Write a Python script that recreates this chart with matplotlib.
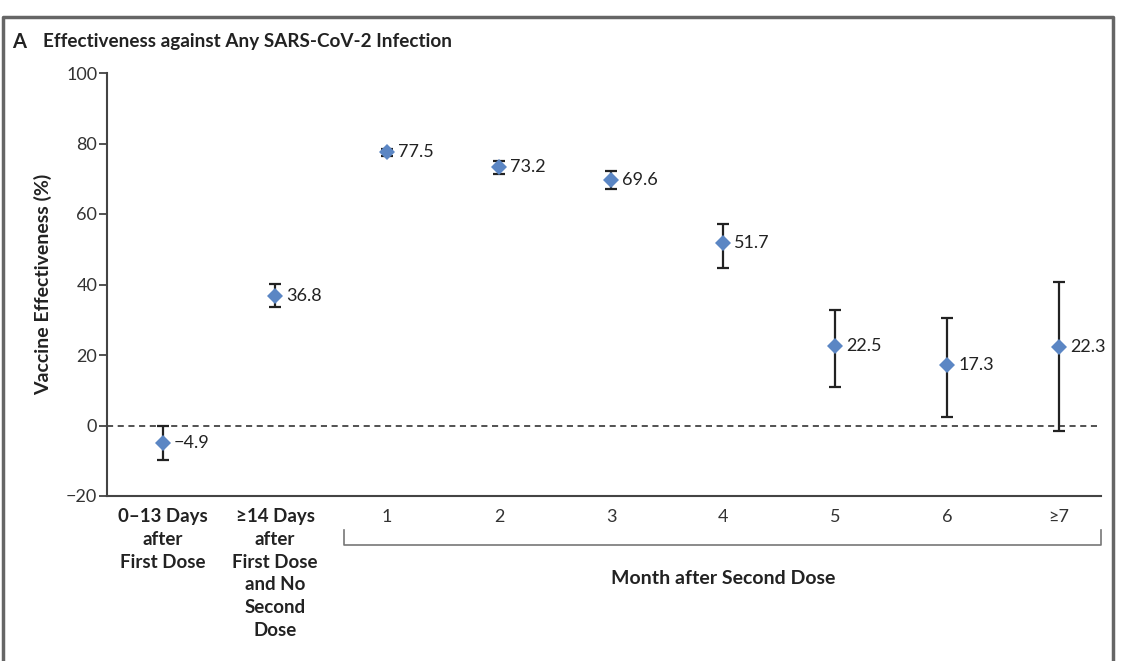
import numpy as np
import matplotlib; matplotlib.use("Agg"); import matplotlib.pyplot as plt
from matplotlib.lines import Line2D

plt.rcParams["font.family"] = ["Lato", "DejaVu Sans"]

cats = ["0\u201313 Days\nafter\nFirst Dose",
        "\u226514 Days\nafter\nFirst Dose\nand No\nSecond\nDose",
        "1", "2", "3", "4", "5", "6", "\u22657"]
ve = [-4.9, 36.8, 77.5, 73.2, 69.6, 51.7, 22.5, 17.3, 22.3]
lo = [-9.9, 33.5, 76.5, 71.4, 67.2, 44.8, 10.8, 2.3, -1.7]
hi = [-0.1, 40.1, 78.5, 75.0, 72.3, 57.3, 32.7, 30.4, 40.8]
val_lbl = ["\u22124.9", "36.8", "77.5", "73.2", "69.6", "51.7", "22.5", "17.3", "22.3"]
yticks = [-20, 0, 20, 40, 60, 80, 100]

W, H = 1125, 661
fig = plt.figure(figsize=(W / 100, H / 100), dpi=100)
ax = fig.add_axes([107 / W, 1 - 496 / H, (1101 - 107) / W, (496 - 73) / H])

x = np.arange(len(ve))
v = np.array(ve); l = np.array(lo); h = np.array(hi)
ax.errorbar(x, v, yerr=[v - l, h - v], fmt="none", ecolor="#222222",
            elinewidth=1.6, capsize=4, capthick=1.6, zorder=2)
ax.plot(x, v, "D", color="#5b86c4", markersize=8.5, markeredgewidth=0, zorder=3)
for xi, yi, t in zip(x, ve, val_lbl):
    ax.annotate(t, (xi, yi), xytext=(8, 0), textcoords="offset points",
                va="center", ha="left", fontsize=13, color="#222222")

ax.axhline(0, color="#222222", lw=1.1, ls=(0, (4, 3)), zorder=1)
ax.set_xlim(-0.5, 8.375)
ax.set_ylim(-20, 100)
ax.set_yticks(yticks)
ax.set_yticklabels([("\u2212" + str(-t)) if t < 0 else str(t) for t in yticks])
ax.set_xticks(x)
ax.set_xticklabels([])
ax.tick_params(axis="y", direction="out", length=6, width=1.2, labelsize=13,
               colors="#333333", pad=1)
ax.tick_params(axis="x", length=0)
for s in ["top", "right"]:
    ax.spines[s].set_visible(False)
for s in ["left", "bottom"]:
    ax.spines[s].set_linewidth(1.5)
    ax.spines[s].set_color("#444444")

ax.set_ylabel("Vaccine Effectiveness (%)", fontsize=14, fontweight="bold",
              color="#222222", labelpad=10)

# category labels
trans = ax.get_xaxis_transform()
for i, c in enumerate(cats):
    if i < 2:
        ax.text(i, -0.028, c, transform=trans, ha="center", va="top", fontsize=13.5,
                fontweight="bold", color="#222222", linespacing=1.42)
    else:
        ax.text(i, -0.03, c, transform=trans, ha="center", va="top", fontsize=13,
                color="#333333")

# bracket under months
bx0, bx1 = 1.62, 8.375
by, bt = -0.115, -0.08
ax.plot([bx0, bx0, bx1, bx1], [bt, by, by, bt], transform=trans, color="#777777",
        lw=1.2, clip_on=False)
ax.text((2 + 8) / 2, -0.175, "Month after Second Dose", transform=trans,
        ha="center", va="top", fontsize=14, fontweight="bold", color="#222222")

# title
fig.text(12 / W, 1 - 42 / H, "A", fontsize=14.5, fontweight="bold", va="center", color="#222222")
fig.text(43 / W, 1 - 42 / H, "Effectiveness against Any SARS-CoV-2 Infection",
         fontsize=13.6, fontweight="bold", va="center", color="#222222")

# outer frame
fc = "#666666"
fig.add_artist(Line2D([3 / W, 3 / W, 1113 / W, 1113 / W], [0, 1 - 17 / H, 1 - 17 / H, 0],
                      color=fc, lw=2.5))

fig.savefig("out.png", dpi=100)
